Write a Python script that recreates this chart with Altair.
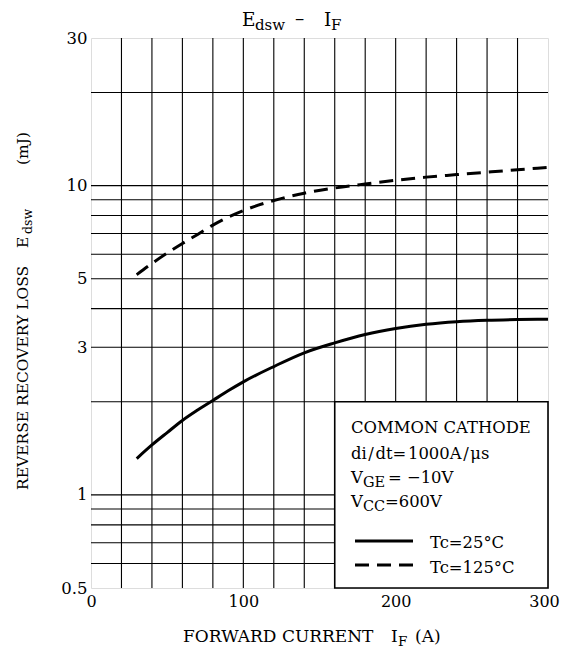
import altair as alt
import pandas as pd

# ---- data ----
current_25 = [30, 40, 50, 60, 70, 80, 90, 100, 120, 140, 160, 180, 200, 220, 240, 260, 280, 300]
loss_25 = [1.31, 1.45, 1.59, 1.74, 1.88, 2.02, 2.17, 2.32, 2.60, 2.88, 3.10, 3.30, 3.45, 3.56, 3.63, 3.67, 3.69, 3.70]
current_125 = [30, 40, 50, 60, 70, 80, 90, 100, 120, 140, 160, 180, 200, 220, 240, 260, 280, 300]
loss_125 = [5.15, 5.6, 6.05, 6.5, 6.95, 7.45, 7.9, 8.3, 8.95, 9.45, 9.82, 10.12, 10.4, 10.65, 10.85, 11.05, 11.25, 11.45]

x_grid = [20, 40, 60, 80, 100, 120, 140, 160, 180, 200, 220, 240, 260, 280]
y_grid = [0.6, 0.7, 0.8, 0.9, 1, 2, 3, 4, 5, 6, 7, 8, 9, 10, 20]
x_ticks = [0, 100, 200, 300]
y_ticks = [0.5, 1, 3, 5, 10, 30]
legend_box = {"x": [160], "x2": [300], "y": [0.5], "y2": [2]}

FONT = "DejaVu Serif"
W, H = 457, 550

xs = alt.Scale(domain=[0, 300], nice=False, zero=False)
ys = alt.Scale(type="log", domain=[0.5, 30], nice=False)

xaxis = alt.Axis(values=x_ticks, format="d", grid=False, ticks=False, domain=False, labelFlush=False,
                 labelOffset={"condition": {"test": "datum.value == 300", "value": -4}, "value": 0},
                 labelFont=FONT, labelFontSize=16, labelColor="black", labelPadding=5, title=None)
yaxis = alt.Axis(values=y_ticks, format="~g", grid=False, ticks=False, domain=False, labelFlush=False,
                 labelFont=FONT, labelFontSize=16.5, labelColor="black", labelPadding=4, title=None)

vgrid = alt.Chart(pd.DataFrame({"x": x_grid})).mark_rule(color="black", strokeWidth=1.1).encode(
    x=alt.X("x:Q", scale=xs, axis=xaxis))
hgrid = alt.Chart(pd.DataFrame({"y": y_grid})).mark_rule(color="black", strokeWidth=1.1).encode(
    y=alt.Y("y:Q", scale=ys, axis=yaxis))

box = alt.Chart(pd.DataFrame(legend_box)).mark_rect(fill="white", stroke="black", strokeWidth=1.6).encode(
    x=alt.X("x:Q", scale=xs), x2="x2:Q", y=alt.Y("y:Q", scale=ys), y2="y2:Q")

df25 = pd.DataFrame({"I": current_25, "E": loss_25})
df125 = pd.DataFrame({"I": current_125, "E": loss_125})
line25 = alt.Chart(df25).mark_line(color="black", strokeWidth=3, interpolate="monotone").encode(
    x=alt.X("I:Q", scale=xs), y=alt.Y("E:Q", scale=ys))
line125 = alt.Chart(df125).mark_line(color="black", strokeWidth=3, strokeDash=[14, 8],
                                     interpolate="monotone").encode(
    x=alt.X("I:Q", scale=xs), y=alt.Y("E:Q", scale=ys))


def txt(s, x, y, size=15, angle=0):
    return alt.Chart(pd.DataFrame({"t": [s]})).mark_text(
        font=FONT, fontSize=size, align="left", baseline="alphabetic", color="black", angle=angle
    ).encode(x=alt.value(x), y=alt.value(y), text="t:N")


HS = "\u200a"
texts = [
    # title
    txt("E", 151, -12, 18.5), txt("dsw", 164, -8, 15), txt("–", 204, -13, 18.5),
    txt("I", 233, -12, 18.5), txt("F", 240, -8, 15),
    # x title
    txt("FORWARD CURRENT", 92, 604, 17), txt("I", 300, 604, 17), txt("F", 307, 608, 13.5),
    txt("(A)", 324, 604, 17),
    # y title (rotated)
    txt("REVERSE RECOVERY LOSS", -63, 452, 15.5, 270), txt("E", -63, 210, 15.5, 270),
    txt("dsw", -59, 196, 12.5, 270), txt("(mJ)", -63, 127, 15.5, 270),
    # legend
    txt("COMMON CATHODE", 260, 395, 16.4),
    txt(f"di{HS}/{HS}dt={HS}1000A{HS}/{HS}μs", 260, 421, 16.4),
    txt("V", 260, 445, 16.4), txt("GE", 272, 449, 14.5), txt("= −10V", 297, 445, 16.4),
    txt("V", 260, 469, 16.4), txt("CC", 272, 473, 14.5), txt("=600V", 294, 469, 16.4),
    txt("Tc=25°C", 339, 510, 16.4), txt("Tc=125°C", 339, 535, 16.4),
]

leg_solid = alt.Chart(pd.DataFrame({"a": [0]})).mark_rule(color="black", strokeWidth=3).encode(
    x=alt.value(264), x2=alt.value(322), y=alt.value(503))
leg_dash = alt.Chart(pd.DataFrame({"a": [0]})).mark_rule(color="black", strokeWidth=3, strokeDash=[14, 8]).encode(
    x=alt.value(264), x2=alt.value(322), y=alt.value(527))

chart = alt.layer(vgrid, hgrid, box, line25, line125, leg_solid, leg_dash, *texts).properties(
    width=W, height=H,
    autosize=alt.AutoSizeParams(type="none"),
    padding={"left": 83, "top": 30, "right": 12, "bottom": 60},
).configure_view(stroke="black", strokeWidth=2.2).configure(background="white")

chart.save("out.html", embed_options={"renderer": "svg", "actions": False})
